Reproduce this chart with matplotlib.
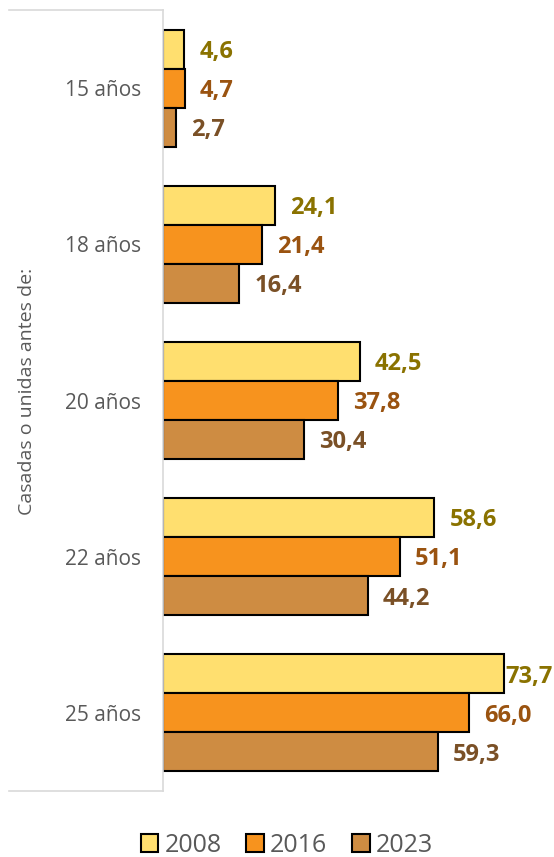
import matplotlib.pyplot as plt
from matplotlib.lines import Line2D
from matplotlib.patches import Patch
import numpy as np

plt.rcParams['font.family'] = ['Open Sans', 'DejaVu Sans']

categories = ['15 años', '18 años', '20 años', '22 años', '25 años']
years = ['2008', '2016', '2023']
v2008 = [4.6, 24.1, 42.5, 58.6, 73.7]
v2016 = [4.7, 21.4, 37.8, 51.1, 66.0]
v2023 = [2.7, 16.4, 30.4, 44.2, 59.3]

fills = ['#FFDF6F', '#F7931E', '#CE8C42']
label_colors = ['#8A7200', '#9A5310', '#7A5026']
gray = '#595959'

fig = plt.figure(figsize=(5.54, 8.57), dpi=100)
ax = fig.add_axes([163/554, 1 - 791/857, 1 - 163/554, (791 - 10)/857])

y = np.arange(len(categories))
h = 0.25
for i, (vals, fc, lc) in enumerate(zip([v2008, v2016, v2023], fills, label_colors)):
    pos = y + (i - 1) * h
    ax.barh(pos, vals, height=h, color=fc, edgecolor='black', linewidth=1.5, label=years[i])
    for p, v in zip(pos, vals):
        pad = 11 if v < 70 else 1
        ax.annotate(f'{v:.1f}'.replace('.', ','), (v, p), xytext=(pad, -2),
                    textcoords='offset points', ha='left', va='center',
                    fontsize=17, fontweight='bold', color=lc)

ax.set_xlim(0, (554 - 163) / 4.63)
ax.set_ylim(len(categories) - 0.5, -0.5)
ax.set_yticks(y)
ax.set_yticklabels(categories, fontsize=15, color=gray)
ax.tick_params(axis='y', length=0, pad=16)
ax.set_xticks([])
for s in ['top', 'right', 'bottom']:
    ax.spines[s].set_visible(False)
ax.spines['left'].set_color('#D9D9D9')
ax.spines['left'].set_linewidth(1.2)

# light frame around the category labels
fig.add_artist(Line2D([9/554, 163/554], [1 - 10/857, 1 - 10/857], color='#D9D9D9', lw=1.2))
fig.add_artist(Line2D([9/554, 163/554], [1 - 791/857, 1 - 791/857], color='#D9D9D9', lw=1.2))

fig.text(27/554, 1 - 391/857, 'Casadas o unidas antes de:', rotation=90,
         ha='center', va='center', fontsize=14, color=gray)

handles = [Patch(facecolor=fc, edgecolor='black', linewidth=1.5) for fc in fills]
fig.legend(handles, years, loc='center', bbox_to_anchor=(287/554, 1 - 845/857),
           ncol=3, frameon=False, fontsize=18, labelcolor=gray,
           handlelength=0.7, handleheight=0.7, handletextpad=0.25, columnspacing=1.0)

fig.savefig('out.png', dpi=100)
